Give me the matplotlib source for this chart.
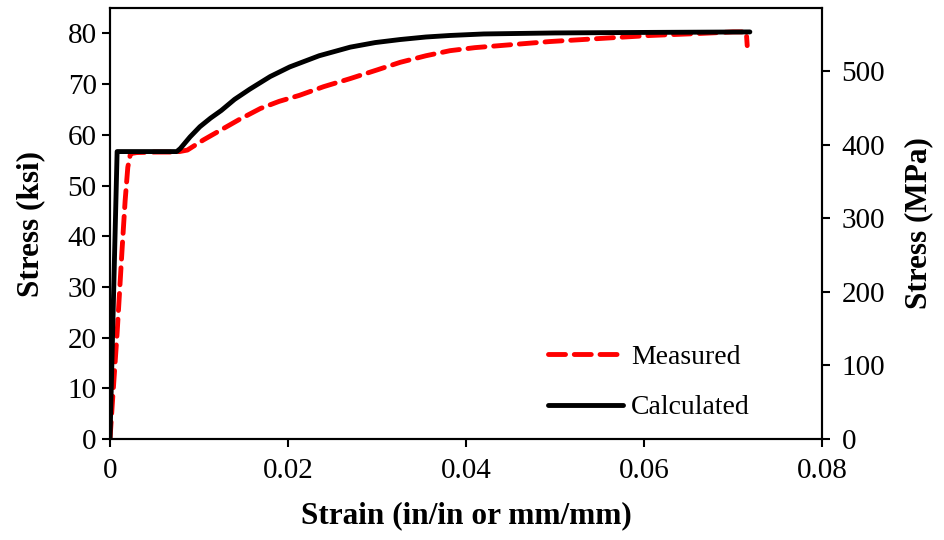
import matplotlib.pyplot as plt

plt.rcParams['font.family'] = ['Liberation Serif', 'DejaVu Serif']

# measured curve (strain, ksi)
meas_strain = [0.0, 0.0003, 0.0008, 0.00135, 0.0017, 0.002, 0.0023, 0.003, 0.005, 0.0075,
               0.0087, 0.0105, 0.0124, 0.0145, 0.0169, 0.019, 0.0213, 0.024, 0.027, 0.030,
               0.0326, 0.0355, 0.0382, 0.041, 0.0438, 0.0494, 0.055, 0.0607, 0.0663, 0.070,
               0.0715, 0.0716]
meas_stress = [0.0, 8.0, 20.9, 37.2, 47.0, 53.6, 56.3, 56.5, 56.6, 56.6,
               57.0, 59.0, 60.9, 63.0, 65.2, 66.6, 67.8, 69.5, 71.1, 72.8,
               74.3, 75.6, 76.6, 77.2, 77.6, 78.4, 79.0, 79.6, 80.0, 80.3,
               80.3, 77.6]

# calculated curve (strain, ksi)
calc_strain = [0.0, 0.0008, 0.0075, 0.0079, 0.009, 0.0101, 0.0113, 0.0125, 0.014, 0.0157,
               0.018, 0.0202, 0.0235, 0.027, 0.0298, 0.0326, 0.0355, 0.0382, 0.042, 0.05,
               0.06, 0.0719]
calc_stress = [0.0, 56.7, 56.7, 57.3, 59.6, 61.6, 63.3, 64.8, 67.0, 69.0,
               71.5, 73.4, 75.6, 77.3, 78.2, 78.8, 79.3, 79.6, 79.9, 80.1,
               80.2, 80.3]

KSI_TO_MPA = 6.895

fig = plt.figure(figsize=(9.45, 5.4), dpi=100)
ax = fig.add_axes([0.1164, 0.187, 0.7534, 0.798])

ax.plot(meas_strain, meas_stress, color='#ff0000', lw=3.5, dashes=[3.5, 1.8],
        dash_capstyle='round', label='Measured')
ax.plot(calc_strain, calc_stress, color='black', lw=3.5, solid_capstyle='round',
        label='Calculated')

ax.set_xlim(0, 0.08)
ax.set_ylim(0, 85)
ax.set_xticks([0, 0.02, 0.04, 0.06, 0.08])
ax.set_xticklabels(['0', '0.02', '0.04', '0.06', '0.08'])
ax.set_yticks(range(0, 81, 10))
ax.tick_params(labelsize=21, width=1.5, length=6, direction='out')
ax.tick_params(axis='x', pad=8)
ax.set_xlabel('Strain (in/in or mm/mm)', fontsize=22.5, fontweight='bold', labelpad=12)
ax.set_ylabel('Stress (ksi)', fontsize=22.5, fontweight='bold', labelpad=16)
for s in ax.spines.values():
    s.set_linewidth(1.5)

ax2 = ax.twinx()
ax2.set_ylim(0, 85 * KSI_TO_MPA)
ax2.set_yticks(range(0, 501, 100))
ax2.tick_params(labelsize=21, width=1.5, length=6, direction='out', pad=8)
ax2.set_ylabel('Stress (MPa)', fontsize=22.5, fontweight='bold', labelpad=14)
for s in ax2.spines.values():
    s.set_linewidth(1.5)

ax.legend(loc='lower left', bbox_to_anchor=(0.58, -0.015), frameon=False, fontsize=20,
          handlelength=2.7, handletextpad=0.3, labelspacing=0.9)

fig.savefig('out.png', dpi=100)
